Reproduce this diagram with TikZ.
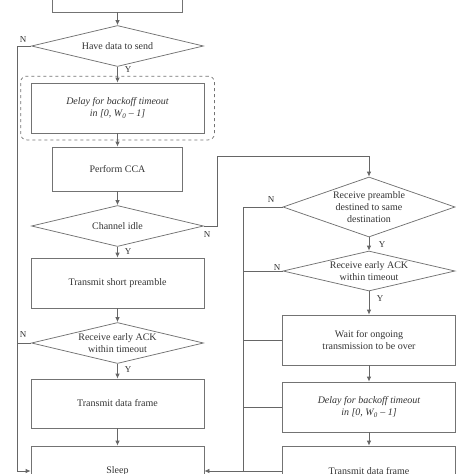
\documentclass[tikz,border=0pt]{standalone}
\usepackage{fontspec}
\setmainfont{Liberation Serif}
\usetikzlibrary{shapes.geometric,fit,arrows.meta}
\begin{document}
\begin{tikzpicture}[x=1pt,y=-1pt,line width=0.75pt,
        every node/.style={font=\fontsize{10}{12}\selectfont, text=black!80},
        box/.style={draw=black!55, rectangle, minimum width=173pt, minimum height=50pt, align=center, inner sep=0pt},
        ital/.style={font=\fontsize{10}{12}\selectfont\itshape},
        cond/.style={draw=black!55, diamond, aspect=4, minimum width=172pt, minimum height=41pt, inner sep=0pt, align=center},
        flow/.style={draw=black!60, -{Latex[length=5pt,width=4.5pt]}},
        link/.style={draw=black!60},
        lbl/.style={font=\fontsize{9}{10}\selectfont}]
    \clip (0,0) rectangle (474,474);
    \node[box, minimum width=130pt, minimum height=40pt] (start) at (117.5,-8) {};
    \node[cond] (have) at (117.5,46) {Have data to send};
    \node[box, ital] (delayA) at (117.5,108) {Delay for backoff timeout\\in [0, W\textsubscript{0} – 1]};
    \node[draw=black!55, dashed, rounded corners=6pt, fit=(delayA), inner xsep=10pt, inner ysep=6.5pt] (backoff) {};
    \node[box, minimum width=130pt, minimum height=44pt] (cca) at (117.5,169) {Perform CCA};
    \node[cond] (idle) at (117.5,226) {Channel idle};
    \node[box] (short) at (117.5,283) {Transmit short preamble};
    \node[cond] (ackA) at (117.5,343) {Receive early ACK\\within timeout};
    \node[box, minimum height=49pt] (dataA) at (117.5,403.5) {Transmit data frame};
    \node[box] (sleep) at (117.5,471) {Sleep};

    \node[cond, aspect=2.9, minimum height=60pt] (pre) at (369,207) {Receive preamble\\destined to same\\destination};
    \node[cond, minimum height=40pt] (ackB) at (369,271) {Receive early ACK\\within timeout};
    \node[box] (wait) at (369,340) {Wait for ongoing\\transmission to be over};
    \node[box, ital] (delayB) at (369,407) {Delay for backoff timeout\\in [0, W\textsubscript{0} – 1]};
    \node[box] (dataB) at (369,471) {Transmit data frame};

    \coordinate (lbus) at (17,0);
    \coordinate (rbus) at (243,0);
    \coordinate (jog) at (217,156);

    \foreach \a/\b in {start/have, have/delayA, delayA/cca, cca/idle, idle/short, short/ackA,
            ackA/dataA, dataA/sleep, pre/ackB, ackB/wait, wait/delayB, delayB/dataB}
        \draw[flow] (\a) -- (\b);

    \draw[flow] (have.west) -- (have.west -| lbus) -- (sleep.west -| lbus) -- (sleep.west);
    \draw[link] (ackA.west) -- (ackA.west -| lbus);
    \draw[flow] (idle.east) -- (idle.east -| jog) -- (jog) -- (jog -| pre.north) -- (pre.north);
    \draw[link] (pre.west) -- (pre.west -| rbus) -- (dataB.west -| rbus);
    \foreach \n in {ackB, wait, delayB}
        \draw[link] (\n.west) -- (\n.west -| rbus);
    \draw[flow] (dataB.west) -- (sleep.east);

    \node[lbl] (nHave) at (23,40) {N};
    \node[lbl] (yHave) at (128,70) {Y};
    \node[lbl] (nIdle) at (207,235) {N};
    \node[lbl] (yIdle) at (128,252) {Y};
    \node[lbl] (nAckA) at (23,335) {N};
    \node[lbl] (yAckA) at (128,370) {Y};
    \node[lbl] (nPre) at (271,200) {N};
    \node[lbl] (yPre) at (382,245) {Y};
    \node[lbl] (nAckB) at (277,268) {N};
    \node[lbl] (yAckB) at (380,299) {Y};
\end{tikzpicture}
\end{document}
